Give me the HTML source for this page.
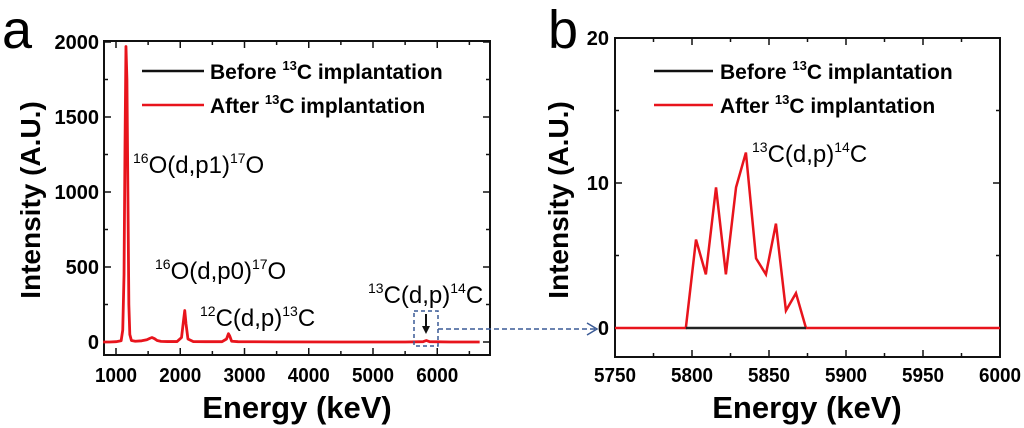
<!DOCTYPE html>
<html><head><meta charset="utf-8"><style>
html,body{margin:0;padding:0;background:#fff;}
svg{display:block;font-family:"Liberation Sans",Arial,sans-serif;}
</style></head><body>
<svg id="fig" width="1024" height="428" viewBox="0 0 1024 428" xmlns="http://www.w3.org/2000/svg">
<g id="pa"></g>
<g id="pb"></g>
</svg>
<script>
// Panel a data
const aEnergy = [800,900,1000,1080,1105,1125,1140,1155,1170,1185,1200,1215,1240,1300,1400,1480,1530,1560,1600,1640,1700,1800,1950,2020,2050,2070,2090,2120,2200,2400,2650,2720,2750,2770,2800,2900,3500,4500,5500,5780,5830,5880,6200,6660];
const aIntensity = [0,0,2,8,80,450,1300,1970,1750,1000,250,50,10,5,8,15,25,30,22,10,4,3,3,30,140,210,120,20,3,2,2,20,55,40,5,2,1,0,0,2,10,2,0,0];
const aXTicks = [1000,2000,3000,4000,5000,6000];
const aYTicks = [0,500,1000,1500,2000];
// Panel b data
const bEnergy = [5750,5796,5802.6,5809,5815.6,5822,5828.6,5835,5841.6,5848,5854.5,5861,5867.5,5874,6000];
const bIntensity = [0,0,6.1,3.7,9.7,3.7,9.7,12.1,4.8,3.7,7.2,1.2,2.4,0,0];
const bBeforeEnergy = [5796,5874];
const bBeforeIntensity = [0,0];
const bXTicks = [5750,5800,5850,5900,5950,6000];
const bYTicks = [0,10,20];

const NS="http://www.w3.org/2000/svg";
function mk(parent,tag,attrs,text){const e=document.createElementNS(NS,tag);for(const k in attrs)e.setAttribute(k,attrs[k]);if(text!==undefined)e.textContent=text;parent.appendChild(e);return e;}
const pa=document.getElementById('pa'), pb=document.getElementById('pb');

// Panel a axes
const ax=v=>116+(v-1000)*0.06425;
const ay=v=>342-v*0.15;
const aL=104,aR=490,aT=41,aB=355;
let fr=mk(pa,'rect',{x:aL,y:aT,width:aR-aL,height:aB-aT,fill:'none',stroke:'#111','stroke-width':2});

for(let v=1000;v<=6500;v+=500){const x=ax(v);const L=v%1000===0?7:4;
 mk(pa,'line',{x1:x,y1:aB,x2:x,y2:aB-L,stroke:'#111','stroke-width':1.5});
 mk(pa,'line',{x1:x,y1:aT,x2:x,y2:aT+L,stroke:'#111','stroke-width':1.5});}
aXTicks.forEach(v=>{const t=mk(pa,'text',{x:ax(v),y:382,'text-anchor':'middle','font-size':20,'font-weight':'bold',textLength:42,lengthAdjust:'spacingAndGlyphs'},String(v));
 });
for(let v=0;v<=2000;v+=250){const y=ay(v);const L=v%500===0?7:4;
 mk(pa,'line',{x1:aL,y1:y,x2:aL+L,y2:y,stroke:'#111','stroke-width':1.5});
 mk(pa,'line',{x1:aR,y1:y,x2:aR-L,y2:y,stroke:'#111','stroke-width':1.5});}
aYTicks.forEach(v=>{const t=mk(pa,'text',{x:aL-5,y:ay(v)+7,'text-anchor':'end','font-size':20,'font-weight':'bold'},String(v));
 });
let tt=mk(pa,'text',{x:297,y:418,'text-anchor':'middle','font-size':31,'font-weight':'bold'},'Energy (keV)');

tt=mk(pa,'text',{x:0,y:0,'text-anchor':'middle','font-size':28,'font-weight':'bold',transform:'translate(40,200) rotate(-90)'},'Intensity (A.U.)');

tt=mk(pa,'text',{x:2,y:48,'font-size':54},'a');

let ln=mk(pa,'polyline',{points:aEnergy.map((e,i)=>ax(e)+','+ay(aIntensity[i])).join(' '),fill:'none',stroke:'#e8141c','stroke-width':2.8,'stroke-linejoin':'round'});

// legend a
let lg=mk(pa,'g',{});
mk(lg,'line',{x1:142,y1:71,x2:204,y2:71,stroke:'#111','stroke-width':2.5});
mk(lg,'line',{x1:142,y1:105,x2:204,y2:105,stroke:'#e8141c','stroke-width':2.5});
function leg(g,x,y,pre){const t=mk(g,'text',{x:x,y:y,'font-size':21,'font-weight':'bold'});
 t.innerHTML=pre+' <tspan font-size="13" dy="-9">13</tspan><tspan dy="9">C implantation</tspan>';return t;}
leg(lg,210,79,'Before');leg(lg,210,113,'After');
function ann(g,x,y,a,b,c,d,name){const t=mk(g,'text',{x:x,y:y,'font-size':24});
 t.innerHTML='<tspan font-size="14" dy="-10">'+a+'</tspan><tspan dy="10">'+b+'</tspan><tspan font-size="14" dy="-10">'+c+'</tspan><tspan dy="10">'+d+'</tspan>';
 }
ann(pa,133,173,'16','O(d,p1)','17','O','label-o-p1');
ann(pa,155,279,'16','O(d,p0)','17','O','label-o-p0');
ann(pa,200,326,'12','C(d,p)','13','C','label-c12');
ann(pa,368,303,'13','C(d,p)','14','C','label-c13-a');
let bx=mk(pa,'rect',{x:414,y:311,width:24,height:35,fill:'none',stroke:'#3a5a95','stroke-width':1.5,'stroke-dasharray':'4,3'});

mk(pa,'line',{x1:426,y1:314,x2:426,y2:328,stroke:'#111','stroke-width':2});
mk(pa,'path',{d:'M422,326 L426,334 L430,326 Z',fill:'#111'});
let ar=mk(pa,'line',{x1:438,y1:329,x2:596,y2:329,stroke:'#3a5a95','stroke-width':1.5,'stroke-dasharray':'5,3'});

mk(pa,'path',{d:'M587,323 L597,329 L587,335',fill:'none',stroke:'#3a5a95','stroke-width':1.5});

// Panel b
const bL=615,bR=1000,bT=38,bB=357;
const bx2=v=>bL+(v-5750)*(bR-bL)/250;
const by=v=>328-v*14.5;
fr=mk(pb,'rect',{x:bL,y:bT,width:bR-bL,height:bB-bT,fill:'none',stroke:'#111','stroke-width':2});

for(let v=5750;v<=6000;v+=25){const x=bx2(v);const L=v%50===0?7:4;
 mk(pb,'line',{x1:x,y1:bB,x2:x,y2:bB-L,stroke:'#111','stroke-width':1.5});
 mk(pb,'line',{x1:x,y1:bT,x2:x,y2:bT+L,stroke:'#111','stroke-width':1.5});}
bXTicks.forEach(v=>{const t=mk(pb,'text',{x:bx2(v),y:382,'text-anchor':'middle','font-size':20,'font-weight':'bold',textLength:42,lengthAdjust:'spacingAndGlyphs'},String(v));
 });
for(let v=0;v<=20;v+=5){const y=by(v);const L=v%10===0?7:4;
 mk(pb,'line',{x1:bL,y1:y,x2:bL+L,y2:y,stroke:'#111','stroke-width':1.5});
 mk(pb,'line',{x1:bR,y1:y,x2:bR-L,y2:y,stroke:'#111','stroke-width':1.5});}
bYTicks.forEach(v=>{const t=mk(pb,'text',{x:bL-6,y:by(v)+7,'text-anchor':'end','font-size':20,'font-weight':'bold'},String(v));
 });
tt=mk(pb,'text',{x:807,y:418,'text-anchor':'middle','font-size':31,'font-weight':'bold'},'Energy (keV)');

tt=mk(pb,'text',{x:0,y:0,'text-anchor':'middle','font-size':28,'font-weight':'bold',transform:'translate(568,200) rotate(-90)'},'Intensity (A.U.)');

tt=mk(pb,'text',{x:548,y:48,'font-size':54},'b');

ln=mk(pb,'polyline',{points:bEnergy.map((e,i)=>bx2(e)+','+by(bIntensity[i])).join(' '),fill:'none',stroke:'#e8141c','stroke-width':2.5,'stroke-linejoin':'miter'});

ln=mk(pb,'polyline',{points:bBeforeEnergy.map((e,i)=>bx2(e)+','+by(bBeforeIntensity[i])).join(' '),fill:'none',stroke:'#222','stroke-width':2.5});

lg=mk(pb,'g',{});
mk(lg,'line',{x1:654,y1:71,x2:713,y2:71,stroke:'#111','stroke-width':2.5});
mk(lg,'line',{x1:654,y1:105,x2:713,y2:105,stroke:'#e8141c','stroke-width':2.5});
leg(lg,720,79,'Before');leg(lg,720,113,'After');
ann(pb,752,162,'13','C(d,p)','14','C','label-c13-b');
</script>
</body></html>
